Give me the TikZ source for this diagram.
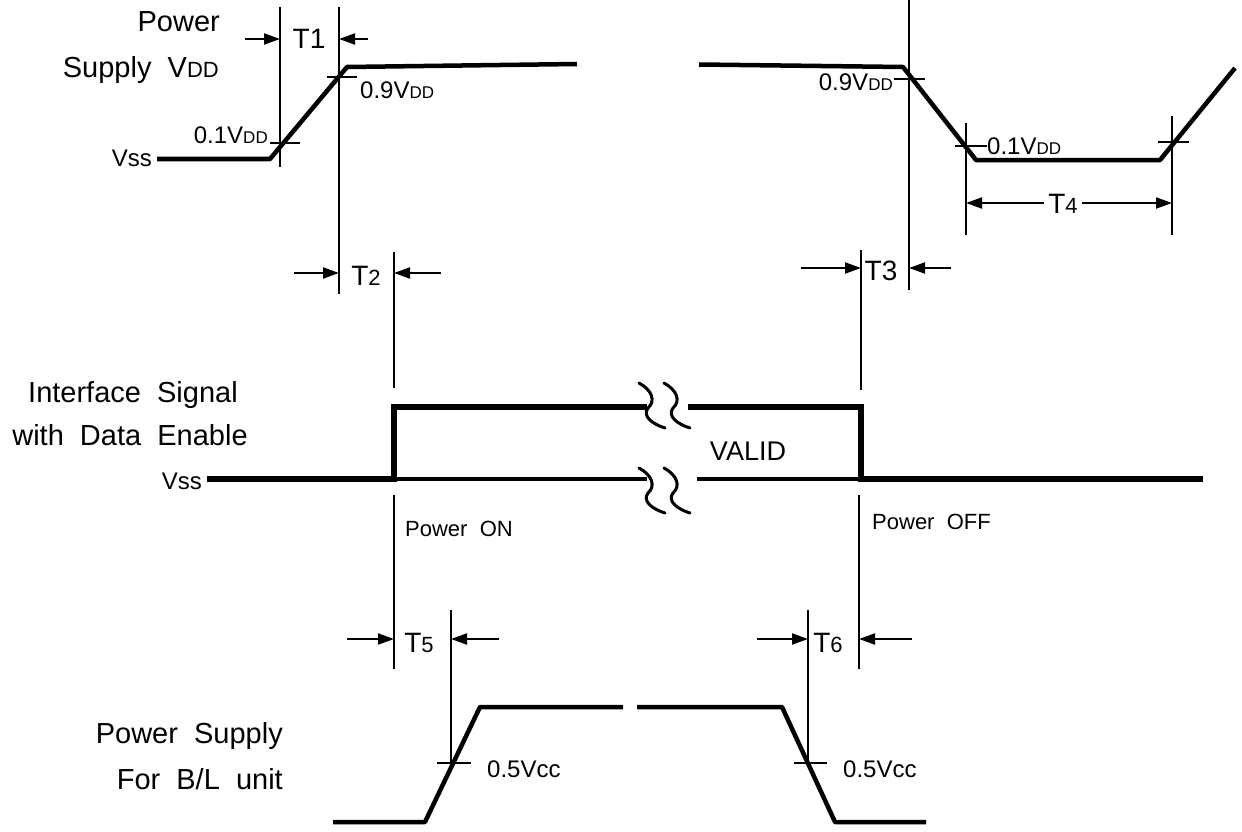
\documentclass[tikz,border=0pt]{standalone}
\usepackage{fontspec}
\setmainfont{Liberation Sans}
\usetikzlibrary{arrows.meta}
\newcommand\ddsub[1]{{\fontsize{#1}{#1}\selectfont DD}}
\newcommand\tsub[1]{{\fontsize{22}{24}\selectfont #1}}
\tikzset{
 lbl/.style={font=\fontsize{29}{34}\selectfont, inner sep=0pt},
 sml/.style={font=\fontsize{24}{28}\selectfont, inner sep=0pt},
 tlab/.style={font=\fontsize{28}{32}\selectfont, inner sep=0pt},
 onoff/.style={font=\fontsize{22}{26}\selectfont, inner sep=0pt},
 wave/.style={line width=4.5pt, line join=round},
 bus/.style={line width=6.5pt, line join=miter},
 thinbus/.style={line width=3.2pt},
 dim/.style={line width=2pt},
 dimarr/.style={line width=2pt, -{Triangle[length=16pt,width=11pt]}},
 brk/.style={line width=3pt, line cap=round},
}
\begin{document}
\begin{tikzpicture}[x=1pt,y=-1pt]
\fill[white] (0,0) rectangle (1242,832);
\useasboundingbox (0,0) rectangle (1242,832);

% ---------- Power supply VDD ----------
\node[lbl, anchor=base east] (pw) at (220,32) {Power};
\node[lbl, anchor=base east] (sv) at (219,78) {Supply\ \ V\ddsub{22}};
\node[sml, anchor=base east] (vssa) at (152,167) {Vss};
\draw[wave] (157,159) -- (270,159) -- (347,67) -- (577,64);
\node[sml, anchor=base east] (l01a) at (268,144) {0.1V\ddsub{17}};
\draw[dim] (270,143) -- (300,143);
\draw[dim] (327,77) -- (357,77);
\node[sml, anchor=base west] (l09a) at (360,99) {0.9V\ddsub{17}};
\draw[dim] (280,7) -- (280,167);
\draw[dim] (339,7) -- (339,294);
\draw[dimarr] (245,39) -- (280,39);
\draw[dimarr] (368,39) -- (339,39);
\node[tlab, anchor=base] (t1) at (309,49) {T1};

% T2
\draw[dim] (394,252) -- (394,388);
\draw[dimarr] (294,273) -- (339,273);
\draw[dimarr] (441,273) -- (394,273);
\node[tlab, anchor=base] (t2) at (366,285) {T\tsub{2}};

% right part
\draw[wave] (699,64.5) -- (903,67) -- (976,160) -- (1160,160) -- (1235,68);
\draw[dim] (909,0) -- (909,290);
\draw[dim] (894,79) -- (925,79);
\node[sml, anchor=base east] (l09b) at (893,91) {0.9V\ddsub{17}};
\draw[dim] (955,146) -- (987,146);
\node[sml, anchor=base west] (l01b) at (987,154) {0.1V\ddsub{17}};
\draw[dim] (966,123) -- (966,235);
\draw[dim] (1158,142) -- (1189,142);
\draw[dim] (1172,116) -- (1172,235);
\draw[dimarr] (1062,203) -- (966,203);
\draw[dimarr] (1062,203) -- (1172,203);
\node[tlab, fill=white, inner xsep=4pt, inner ysep=1pt, anchor=base] (t4) at (1063,213) {T\tsub{4}};

% T3
\draw[dim] (861,250) -- (861,390);
\draw[dimarr] (801,268) -- (861,268);
\draw[dimarr] (951,268) -- (909,268);
\node[tlab, anchor=base] (t3) at (881,280) {T3};

% ---------- Interface signal ----------
\node[lbl, anchor=base] (ifa) at (133,402) {Interface\ \ Signal};
\node[lbl, anchor=base] (ifb) at (130,445) {with\ \ Data\ \ Enable};
\node[sml, anchor=base east] (vssb) at (202,489) {Vss};
\draw[bus] (207,479) -- (394,479) -- (394,407) -- (647,407);
\draw[bus] (688,407) -- (861,407) -- (861,479) -- (1203,479);
\draw[thinbus] (394,479) -- (647,479);
\draw[thinbus] (697,479) -- (861,479);
\foreach \dx/\dy in {0/0,25/0,0/85,25/85}{
  \draw[brk, shift={(\dx,\dy)}] (639,383) .. controls (652,390) and (656,401) .. (648,408)
     .. controls (642,416) and (652,424) .. (665,428);
}
\node[font=\fontsize{27}{30}\selectfont, inner sep=0pt, anchor=base] (valid) at (748,460) {VALID};

\draw[dim] (394,495) -- (394,669);
\draw[dim] (859,495) -- (859,669);
\node[onoff, anchor=base west] (pon) at (405,536) {Power\ \ ON};
\node[onoff, anchor=base west] (poff) at (872,529) {Power\ \ OFF};

% ---------- Power supply B/L ----------
\node[lbl, anchor=base east] (bla) at (283,743) {Power\ \ Supply};
\node[lbl, anchor=base east] (blb) at (283,789) {For\ \ B/L\ \ unit};
\draw[wave] (333,822) -- (425,822) -- (480,707) -- (623,707);
\draw[wave] (637,707) -- (782,707) -- (835,822) -- (926,822);

% T5
\draw[dim] (451,610) -- (451,763);
\draw[dim] (437,763) -- (471,763);
\draw[dimarr] (347,639) -- (394,639);
\draw[dimarr] (499,639) -- (451,639);
\node[tlab, anchor=base] (t5) at (419,652) {T\tsub{5}};
\node[sml, anchor=base west] (vcca) at (487,777) {0.5Vcc};

% T6
\draw[dim] (808,610) -- (808,763);
\draw[dim] (794,763) -- (827,763);
\draw[dimarr] (757,639) -- (808,639);
\draw[dimarr] (912,639) -- (859,639);
\node[tlab, anchor=base] (t6) at (828,652) {T\tsub{6}};
\node[sml, anchor=base west] (vccb) at (843,777) {0.5Vcc};
\end{tikzpicture}
\end{document}
